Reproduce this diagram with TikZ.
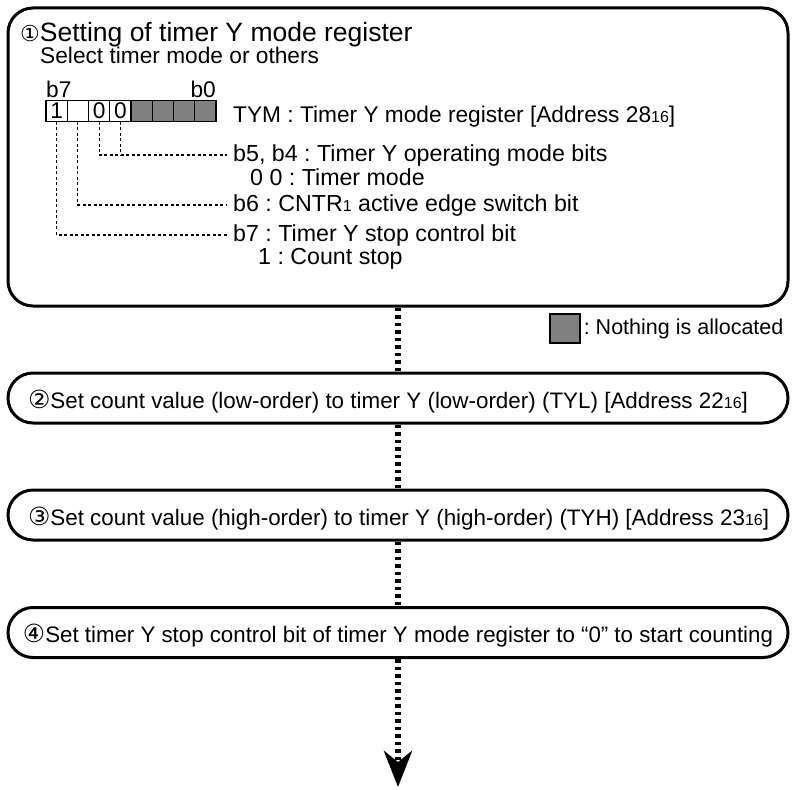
\documentclass[tikz,border=0pt]{standalone}
\usepackage{fontspec}
\setmainfont{Liberation Sans}
\newfontfamily\circfont{DejaVu Sans}
\usetikzlibrary{arrows.meta, positioning, calc}

\newcommand{\hexsub}[1]{{\fontsize{16pt}{16pt}\selectfont #1}}
\newcommand{\stepno}[2][25pt]{{\circfont\fontsize{#1}{#1}\selectfont #2}}
\frenchspacing

\begin{document}
\begin{tikzpicture}[
    x=1pt, y=-1pt,
    every node/.style={font=\fontsize{22.7pt}{24pt}\selectfont, inner sep=0pt},
    stepbox/.style={draw, line width=3pt, rounded corners=25pt,
      minimum width=780pt, minimum height=50pt},
    flowtext/.style={stepbox, inner xsep=20pt, text height=24pt, text depth=4pt,
      font=\fontsize{22.4pt}{24pt}\selectfont},
    cellbox/.style={draw, line width=1.2pt, minimum width=21.25pt, minimum height=20.3pt},
    blank/.style={cellbox, fill=black!50},
    txt/.style={anchor=base west},
    bittxt/.style={txt, font=\fontsize{23.2pt}{24pt}\selectfont},
    leader/.style={line width=1.2pt, dash pattern=on 3pt off 2.5pt},
    flow/.style={line width=6pt, dash pattern=on 3.5pt off 4pt}
  ]
  \useasboundingbox (0,0) rectangle (794,789);

  % register setting
  \node[stepbox, minimum height=298pt] (set) at (398,157) {};
  \node[txt, font=\fontsize{26.5pt}{28pt}\selectfont] (title) at (20,42)
    {\stepno[22pt]{①}Setting of timer Y mode register};
  \node[txt] (sel) at (40,64) {Select timer mode or others};
  \node[txt] (hi) at (46,98) {b7};
  \node[txt, anchor=base east] (lo) at (216,98) {b0};
  \foreach \i/\v in {7/1, 6/, 5/0, 4/0}
    \node[cellbox] (c\i) at ({56.625+21.25*(7-\i)},111) {\v};
  \foreach \i in {3,...,0}
    \node[blank] (c\i) at ({56.625+21.25*(7-\i)},111) {};
  \node[txt] (tym) at (233,122) {TYM : Timer Y mode register [Address 28\hexsub{16}]};
  \node[bittxt] (b54) at (233,161) {b5, b4 : Timer Y operating mode bits};
  \node[bittxt] (m00) at (250,185) {0 0 : Timer mode};
  \node[bittxt] (b6) at (233,211) {b6 : CNTR\hexsub{1} active edge switch bit};
  \node[bittxt] (b7) at (233,241) {b7 : Timer Y stop control bit};
  \node[bittxt] (cs) at (258,264) {1 : Count stop};
  \draw[leader] (c5.south) |- ([xshift=-6pt]b54.west);
  \draw[leader] (c4.south) -- (c4.south |- b54.west);
  \draw[leader] (c6.south) |- ([xshift=-6pt]b6.west);
  \draw[leader] (c7.south) |- ([xshift=-6pt]b7.west);

  % key
  \node[blank, minimum width=30pt, minimum height=29pt] (key) at (565,328.5) {};
  \node[anchor=west, font=\fontsize{21.5pt}{24pt}\selectfont] (keytxt)
    at ([xshift=3pt]key.east) {: Nothing is allocated};

  % steps
  \node[flowtext] (low) at (398,398)
    {\makebox[740pt][l]{\stepno{②}Set count value (low-order) to timer Y (low-order) (TYL) [Address 22\hexsub{16}]}};
  \node[flowtext] (high) at (398,515)
    {\makebox[740pt][l]{\stepno{③}Set count value (high-order) to timer Y (high-order) (TYH) [Address 23\hexsub{16}]}};
  \node[flowtext, inner xsep=15pt] (start) at (398,632.5)
    {\resizebox{750pt}{\height}{\stepno{④}Set timer Y stop control bit of timer Y mode register to “0” to start counting}};
  \coordinate (end) at (398,787);

  \draw[flow] (set.south) -- (low.north);
  \draw[flow] (low.south) -- (high.north);
  \draw[flow] (high.south) -- (start.north);
  \draw[flow, -{Stealth[length=36pt, width=28pt, inset=11pt]}] (start.south) -- (end);
\end{tikzpicture}
\end{document}
